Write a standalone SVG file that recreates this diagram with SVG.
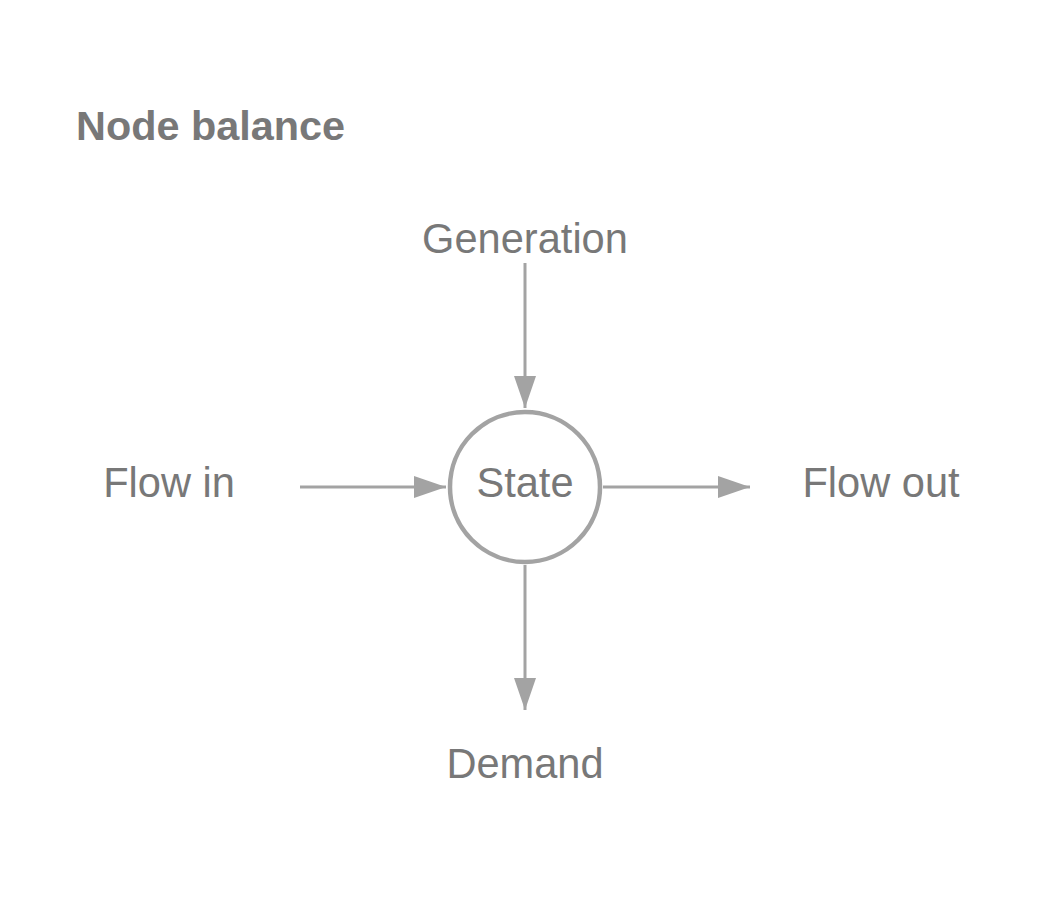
<svg xmlns="http://www.w3.org/2000/svg" width="1050" height="917" viewBox="0 0 1050 917">
<style>
text{font-family:"Liberation Sans",Arial,sans-serif;fill:#787878;font-size:41.6px;text-anchor:middle}
.title{font-weight:bold;text-anchor:start;font-size:41.4px}
.edge{stroke:#a3a3a3;stroke-width:3;fill:none}
.node{stroke:#a3a3a3;stroke-width:4.5;fill:#ffffff}
</style>
<defs>
<marker id="arr" viewBox="0 0 32 22" refX="32" refY="11" markerWidth="32" markerHeight="22" markerUnits="userSpaceOnUse" orient="auto">
<path d="M0,0 L32,11 L0,22 Z" fill="#a3a3a3"/>
</marker>
</defs>
<rect width="1050" height="917" fill="#ffffff"/>
<g id="title"><text class="title" x="76" y="140">Node balance</text></g>
<g id="connectors">
<line class="edge" x1="525" y1="263" x2="525" y2="408" marker-end="url(#arr)"/>
<line class="edge" x1="300" y1="487" x2="446" y2="487" marker-end="url(#arr)"/>
<line class="edge" x1="603" y1="487" x2="750" y2="487" marker-end="url(#arr)"/>
<line class="edge" x1="525" y1="565" x2="525" y2="710" marker-end="url(#arr)"/>
</g>
<g id="state"><circle class="node" cx="525" cy="487" r="75"/><text x="525" y="497">State</text></g>
<g id="generation"><text x="525" y="253">Generation</text></g>
<g id="flow-in"><text x="169" y="497">Flow in</text></g>
<g id="flow-out"><text x="881" y="497">Flow out</text></g>
<g id="demand"><text x="525" y="778">Demand</text></g>
</svg>
